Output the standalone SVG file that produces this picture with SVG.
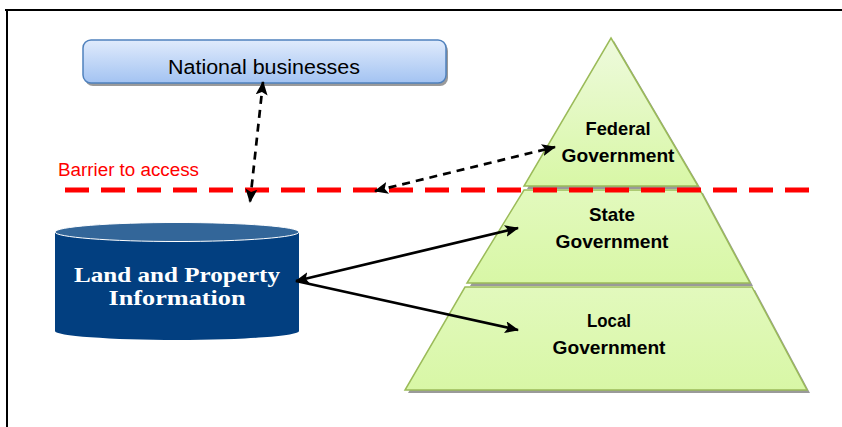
<svg xmlns="http://www.w3.org/2000/svg" width="842" height="427" viewBox="0 0 842 427">
<defs>
<linearGradient id="gBlue" x1="0" y1="0" x2="0" y2="1">
<stop offset="0" stop-color="#e0ebfc"/>
<stop offset="1" stop-color="#a3c3f2"/>
</linearGradient>
<linearGradient id="gGreen" x1="0" y1="0" x2="0" y2="1">
<stop offset="0" stop-color="#eefadd"/>
<stop offset="1" stop-color="#d8f7a6"/>
</linearGradient>
<linearGradient id="gGreen2" x1="0" y1="0" x2="0" y2="1">
<stop offset="0" stop-color="#e2f9bd"/>
<stop offset="1" stop-color="#d8f7a6"/>
</linearGradient>
<marker id="ah" viewBox="0 0 14 12" refX="13" refY="6" markerWidth="14" markerHeight="12" markerUnits="userSpaceOnUse" orient="auto-start-reverse">
<path d="M0,0 L14,6 L0,12 L3,6 Z" fill="#000"/>
</marker>
</defs>
<style>
.tier{stroke:#9bbb59;stroke-width:1.5;}
.shadow{fill:#9a9a9a;}
.gov{font-family:"Liberation Sans",Arial,sans-serif;font-weight:bold;font-size:19px;fill:#000;text-anchor:middle;}
.conn{fill:none;stroke:#000;stroke-width:2.7;}
.dash{stroke-dasharray:8,6;}
</style>
<rect width="842" height="427" fill="#fff"/>
<g id="frame">
<line x1="5" y1="10" x2="842" y2="10" stroke="#000" stroke-width="2"/>
<line x1="7" y1="9" x2="7" y2="427" stroke="#000" stroke-width="2"/>
</g>
<g id="national-businesses">
<rect x="85" y="43" width="363" height="43" rx="8" class="shadow"/>
<rect x="83" y="40" width="363" height="43" rx="8" fill="url(#gBlue)" stroke="#4f81bd" stroke-width="1.5"/>
<text x="264" y="74" font-family="Liberation Sans,Arial,sans-serif" font-size="20" text-anchor="middle" textLength="192" lengthAdjust="spacingAndGlyphs" fill="#000">National businesses</text>
</g>
<g id="barrier">
<text x="58" y="176" font-family="Liberation Sans,Arial,sans-serif" font-size="18" fill="#ff0000" textLength="141" lengthAdjust="spacingAndGlyphs">Barrier to access</text>
</g>
<g id="pyramid">
<g id="federal">
<polygon points="614,41 701,189 527,189" class="shadow"/>
<polygon points="611,38 698,186 524,186" class="tier" fill="url(#gGreen)"/>
<text x="618" y="135" class="gov" textLength="65" lengthAdjust="spacingAndGlyphs">Federal</text>
<text x="618" y="162" class="gov" textLength="113" lengthAdjust="spacingAndGlyphs">Government</text>
</g>
<g id="state">
<polygon points="527,193 703,193 753,286 470,286" class="shadow"/>
<polygon points="524,190 700,190 750,283 467,283" class="tier" fill="url(#gGreen2)"/>
<text x="612" y="221" class="gov" textLength="46" lengthAdjust="spacingAndGlyphs">State</text>
<text x="612" y="248" class="gov" textLength="113" lengthAdjust="spacingAndGlyphs">Government</text>
</g>
<g id="local">
<polygon points="468,290 755,290 810,393 408,393" class="shadow"/>
<polygon points="465,287 752,287 807,390 405,390" class="tier" fill="url(#gGreen2)"/>
<text x="609" y="327" class="gov" textLength="44" lengthAdjust="spacingAndGlyphs">Local</text>
<text x="609" y="354" class="gov" textLength="113" lengthAdjust="spacingAndGlyphs">Government</text>
</g>
</g>
<g id="barrier-line">
<line x1="65" y1="190" x2="812" y2="190" stroke="#ff0000" stroke-width="5" stroke-dasharray="24,12"/>
</g>
<g id="land-property-information">
<path d="M55,232 L55,331 A122,9 0 0 0 299,331 L299,232 Z" fill="#023f80"/>
<ellipse cx="177" cy="232" rx="122" ry="9.5" fill="#336699" stroke="#ffffff" stroke-width="1"/>
<text x="177" y="282" font-family="Liberation Serif,Times New Roman,serif" font-weight="bold" font-size="21" fill="#fff" text-anchor="middle" textLength="206" lengthAdjust="spacingAndGlyphs">Land and Property</text>
<text x="177" y="305" font-family="Liberation Serif,Times New Roman,serif" font-weight="bold" font-size="21" fill="#fff" text-anchor="middle" textLength="137" lengthAdjust="spacingAndGlyphs">Information</text>
</g>
<g id="connectors">
<line x1="263" y1="82" x2="250" y2="202" class="conn dash" marker-start="url(#ah)" marker-end="url(#ah)"/>
<line x1="375" y1="191" x2="555" y2="147" class="conn dash" marker-start="url(#ah)" marker-end="url(#ah)"/>
<line x1="296" y1="281" x2="518" y2="228" class="conn" marker-start="url(#ah)" marker-end="url(#ah)"/>
<line x1="296" y1="281" x2="518" y2="330" class="conn" marker-end="url(#ah)"/>
</g>
</svg>
